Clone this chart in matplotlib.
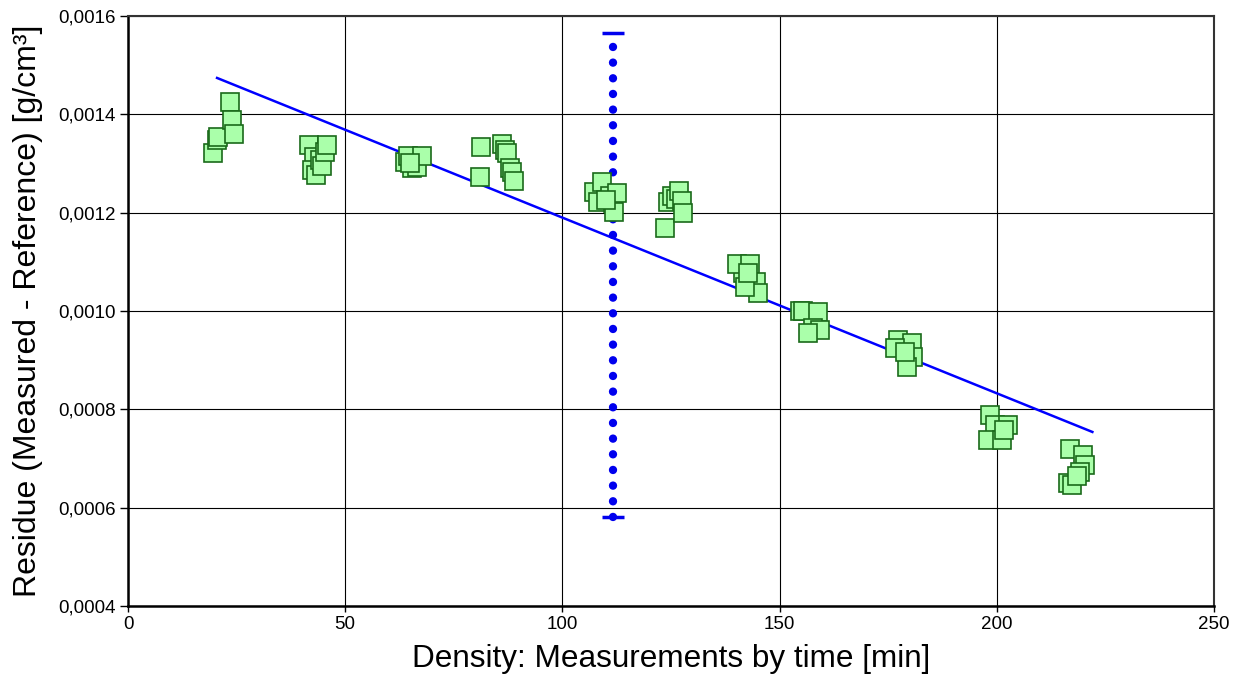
import matplotlib
matplotlib.use("Agg")
import matplotlib.pyplot as plt
from matplotlib.ticker import FuncFormatter

plt.rcParams['font.family'] = ['Liberation Sans', 'DejaVu Sans']

# Measured residues (x: time in min, y: residue in g/cm3)
x_data = [19.6, 20.4, 20.7, 23.5, 24.0, 24.4,
          41.7, 42.8, 42.4, 43.3, 44.2, 44.7, 45.3, 45.8,
          63.8, 64.5, 65.4, 66.5, 67.7, 64.9,
          81.3, 81.0, 86.1, 86.8, 87.2, 87.9, 88.4, 88.9,
          107.3, 109.1, 108.2, 111.0, 111.6, 112.6, 111.9, 110.0,
          123.6, 124.3, 125.2, 126.1, 126.8, 127.5, 127.8,
          141.5, 140.1, 143.2, 144.6, 145.1, 142.0, 142.7,
          154.7, 155.4, 158.8, 157.7, 159.3, 156.6,
          177.3, 180.4, 180.7, 179.3, 176.6, 178.9,
          198.4, 199.6, 202.6, 198.0, 201.2, 201.7,
          216.9, 219.8, 220.3, 219.2, 216.4, 217.3, 218.5]
y_data = [0.001321, 0.001348, 0.001353, 0.001426, 0.001388, 0.001361,
          0.001338, 0.001313, 0.001287, 0.001277, 0.001307, 0.001295, 0.001323, 0.001338,
          0.001304, 0.001316, 0.001290, 0.001293, 0.001315, 0.001301,
          0.001334, 0.001273, 0.001340, 0.001327, 0.001321, 0.001291, 0.001283, 0.001264,
          0.001243, 0.001263, 0.001221, 0.001233, 0.001219, 0.001239, 0.001201, 0.001226,
          0.001169, 0.001222, 0.001234, 0.001228, 0.001244, 0.001224, 0.001199,
          0.001077, 0.001096, 0.001096, 0.001060, 0.001036, 0.001049, 0.001077,
          0.001001, 0.000999, 0.000997, 0.000965, 0.000961, 0.000955,
          0.000941, 0.000934, 0.000906, 0.000887, 0.000924, 0.000917,
          0.000788, 0.000768, 0.000768, 0.000738, 0.000738, 0.000758,
          0.000719, 0.000707, 0.000687, 0.000673, 0.000650, 0.000646, 0.000664]

# Regression line end points
fit_x = [20.5, 222.0]
fit_y = [0.001474, 0.000754]

# Vertical range marker
range_x = 111.6
range_low = 0.000581
range_high = 0.001565

x_ticks = [0, 50, 100, 150, 200, 250]
y_ticks = [0.0004, 0.0006, 0.0008, 0.0010, 0.0012, 0.0014, 0.0016]

fig = plt.figure(figsize=(12.34, 6.84), dpi=100)
ax = fig.add_axes([128/1234, 1 - 606/684, (1214-128)/1234, (606-16)/684])

ax.set_xlim(0, 250)
ax.set_ylim(0.0004, 0.0016)
ax.set_xticks(x_ticks)
ax.set_yticks(y_ticks)
ax.yaxis.set_major_formatter(FuncFormatter(lambda v, p: f"{v:.4f}".replace('.', ',')))
ax.xaxis.set_major_formatter(FuncFormatter(lambda v, p: f"{v:.0f}"))
ax.grid(True, color='black', linewidth=0.8)
ax.set_axisbelow(True)

for side in ['top', 'right']:
    ax.spines[side].set_linewidth(1.5)
    ax.spines[side].set_color('#333333')
for side in ['left', 'bottom']:
    ax.spines[side].set_linewidth(1.8)
    ax.spines[side].set_color('black')

ax.tick_params(axis='y', length=6, width=1, labelsize=13.5, pad=3)
ax.tick_params(axis='x', length=4, width=1, labelsize=13.5, pad=3)

# regression line
ax.plot(fit_x, fit_y, color='#0000ff', linewidth=1.8, zorder=3)

# vertical dotted range
ax.plot([range_x, range_x], [range_low, range_high], color='#0000ee',
        linewidth=6, linestyle=(0, (0.01, 1.87)), dash_capstyle='round', zorder=4)
ax.errorbar([range_x], [(range_low + range_high) / 2],
            yerr=[[(range_high - range_low) / 2], [(range_high - range_low) / 2]],
            fmt='none', ecolor='#0000ee', elinewidth=0, capsize=8, capthick=2.5, zorder=4)

# data points
ax.plot(x_data, y_data, linestyle='none', marker='s', markersize=13.5,
        markerfacecolor='#aaffaa', markeredgecolor='#1a6a1a', markeredgewidth=1.2, zorder=5)

ax.set_xlabel("Density: Measurements by time [min]", fontsize=22.7, labelpad=8)
ax.set_ylabel("Residue (Measured - Reference) [g/cm³]", fontsize=23, labelpad=11)

fig.savefig("out.png", dpi=100)
